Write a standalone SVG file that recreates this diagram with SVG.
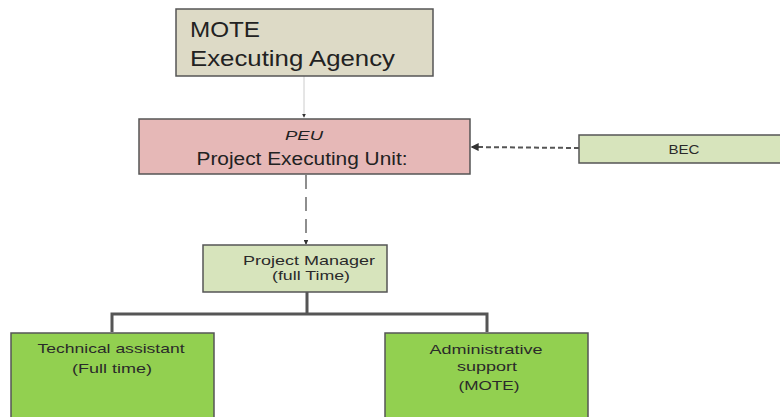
<svg xmlns="http://www.w3.org/2000/svg" width="780" height="417" viewBox="0 0 780 417">
<defs>
<style>
.t{font-family:"Liberation Sans","DejaVu Sans",sans-serif;fill:#222;text-anchor:middle}
.s{font-size:13.5px;fill:#2a2a2a}
.box{stroke:#555;stroke-width:1.5}
</style>
<marker id="ah" viewBox="0 0 6 6" refX="5" refY="3" markerWidth="4" markerHeight="4" orient="auto"><path d="M0,0L6,3L0,6z" fill="#333"/></marker>
</defs>
<rect width="780" height="417" fill="#fff"/>
<g id="connectors" fill="none">
<line x1="304" y1="76" x2="304" y2="117" stroke="#ccc" stroke-width="1" marker-end="url(#ah)"/>
<line x1="579" y1="148" x2="472" y2="147" stroke="#555" stroke-width="2" stroke-dasharray="5,3" marker-end="url(#ah)"/>
<line x1="306" y1="175" x2="306" y2="244" stroke="#444" stroke-width="1.2" stroke-dasharray="14,8" marker-end="url(#ah)"/>
<path d="M307,292V314M112,332V314H487V332" stroke="#555" stroke-width="3"/>
</g>
<g id="mote">
<rect class="box" x="176" y="9" width="257" height="67" fill="#dddac6"/>
<text class="t" x="190" y="37" font-size="22" style="text-anchor:start" textLength="70" lengthAdjust="spacingAndGlyphs">MOTE</text>
<text class="t" x="190" y="66" font-size="22" style="text-anchor:start" textLength="205" lengthAdjust="spacingAndGlyphs">Executing Agency</text>
</g>
<g id="peu">
<rect class="box" x="139" y="119" width="331" height="55" fill="#e6b8b7"/>
<text class="t" x="304" y="140" font-size="13" font-style="italic" textLength="38" lengthAdjust="spacingAndGlyphs">PEU</text>
<text class="t" x="302" y="165" font-size="18" textLength="211" lengthAdjust="spacingAndGlyphs">Project Executing Unit:</text>
</g>
<g id="bec">
<rect class="box" x="579" y="135" width="210" height="28" fill="#d7e4bc"/>
<text class="t s" x="684" y="154" textLength="31" lengthAdjust="spacingAndGlyphs">BEC</text>
</g>
<g id="pm">
<rect class="box" x="203" y="245" width="184" height="47" fill="#d7e4bc"/>
<text class="t s" x="309" y="265" textLength="132" lengthAdjust="spacingAndGlyphs">Project Manager</text>
<text class="t s" x="311" y="280" textLength="78" lengthAdjust="spacingAndGlyphs">(full Time)</text>
</g>
<g id="tech">
<rect class="box" x="11" y="333" width="203" height="100" fill="#92d050"/>
<text class="t s" x="111" y="353" textLength="147" lengthAdjust="spacingAndGlyphs">Technical assistant</text>
<text class="t s" x="112" y="373" textLength="80" lengthAdjust="spacingAndGlyphs">(Full time)</text>
</g>
<g id="admin">
<rect class="box" x="385" y="333" width="203" height="100" fill="#92d050"/>
<text class="t s" x="486" y="354" textLength="113" lengthAdjust="spacingAndGlyphs">Administrative</text>
<text class="t s" x="487" y="371" textLength="60" lengthAdjust="spacingAndGlyphs">support</text>
<text class="t s" x="489" y="390" textLength="61" lengthAdjust="spacingAndGlyphs">(MOTE)</text>
</g>
</svg>
